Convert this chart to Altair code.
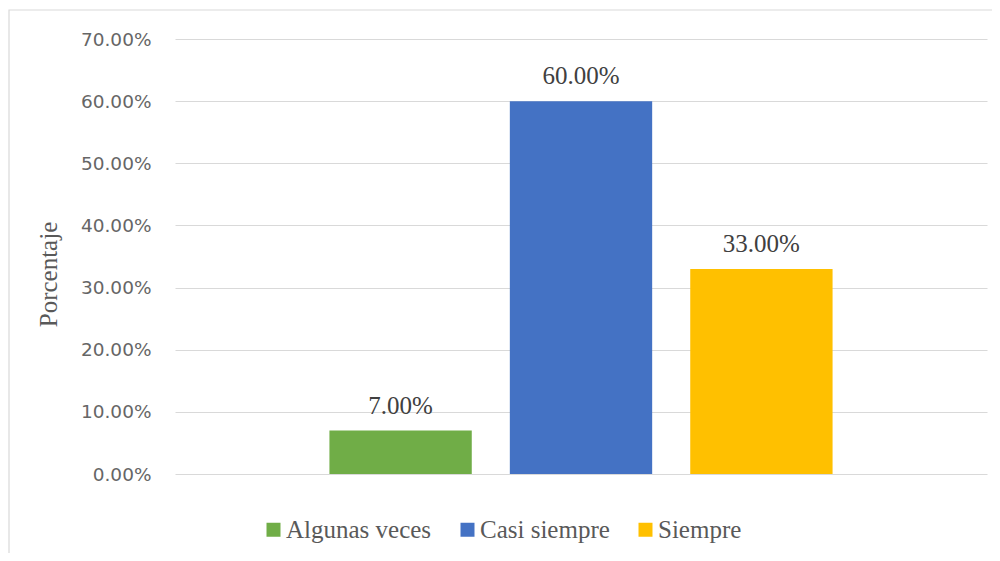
import altair as alt
import pandas as pd

categories = ["Algunas veces", "Casi siempre", "Siempre"]
values = [0.07, 0.60, 0.33]
colors = ["#70AD47", "#4472C4", "#FFC000"]

df = pd.DataFrame({"cat": categories, "val": values})

x_enc = alt.X("cat:N", sort=categories, axis=None,
              scale=alt.Scale(paddingInner=0.211, paddingOuter=0.856))
y_enc = alt.Y("val:Q",
              scale=alt.Scale(domain=[0, 0.7]),
              axis=alt.Axis(format=".2%", values=[0, 0.1, 0.2, 0.3, 0.4, 0.5, 0.6, 0.7],
                            title="Porcentaje", domain=False, ticks=False,
                            grid=True, gridColor="#d9d9d9", gridWidth=1.2,
                            labelFont="DejaVu Sans", labelFontSize=18.5,
                            labelColor="#666666", labelPadding=24,
                            titleFont="Liberation Serif", titleFontSize=25,
                            titleFontWeight="normal", titleColor="#595959",
                            titleX=-127, titleY=235, titleAlign="center",
                            titleBaseline="middle", titleAngle=270))

bars = alt.Chart(df).mark_bar().encode(
    x=x_enc,
    y=y_enc,
    color=alt.Color("cat:N", sort=categories,
                    scale=alt.Scale(domain=categories, range=colors),
                    legend=alt.Legend(title=None, orient="none", direction="horizontal",
                                      legendX=86, legendY=478, padding=0,
                                      symbolType="square", symbolSize=196,
                                      symbolStrokeWidth=0, symbolOpacity=1,
                                      labelFont="Liberation Serif", labelFontSize=25,
                                      labelColor="#595959", labelOffset=0,
                                      columnPadding=23, labelLimit=400)),
)

labels = alt.Chart(df).mark_text(dy=-17, baseline="alphabetic", font="Liberation Serif",
                                 fontSize=25, color="#404040").encode(
    x=alt.X("cat:N", sort=categories),
    y="val:Q",
    text=alt.Text("val:Q", format=".2%"),
)

border = alt.Chart(pd.DataFrame({"d": [0]})).mark_rect(
    fillOpacity=0, stroke="#d9d9d9", strokeWidth=1.2
).encode(x=alt.value(-166), x2=alt.value(1000), y=alt.value(-29), y2=alt.value(700))

chart = alt.layer(border, bars, labels).properties(
    width=812, height=435, autosize="none", background="white",
    padding={"left": 167, "top": 31, "right": 5, "bottom": 79},
).configure_view(strokeOpacity=0, strokeWidth=0).configure_legend(
    labelFont="Liberation Serif", labelFontSize=25, labelColor="#595959"
)

chart.save("out.html", embed_options={"renderer": "svg", "actions": False})
